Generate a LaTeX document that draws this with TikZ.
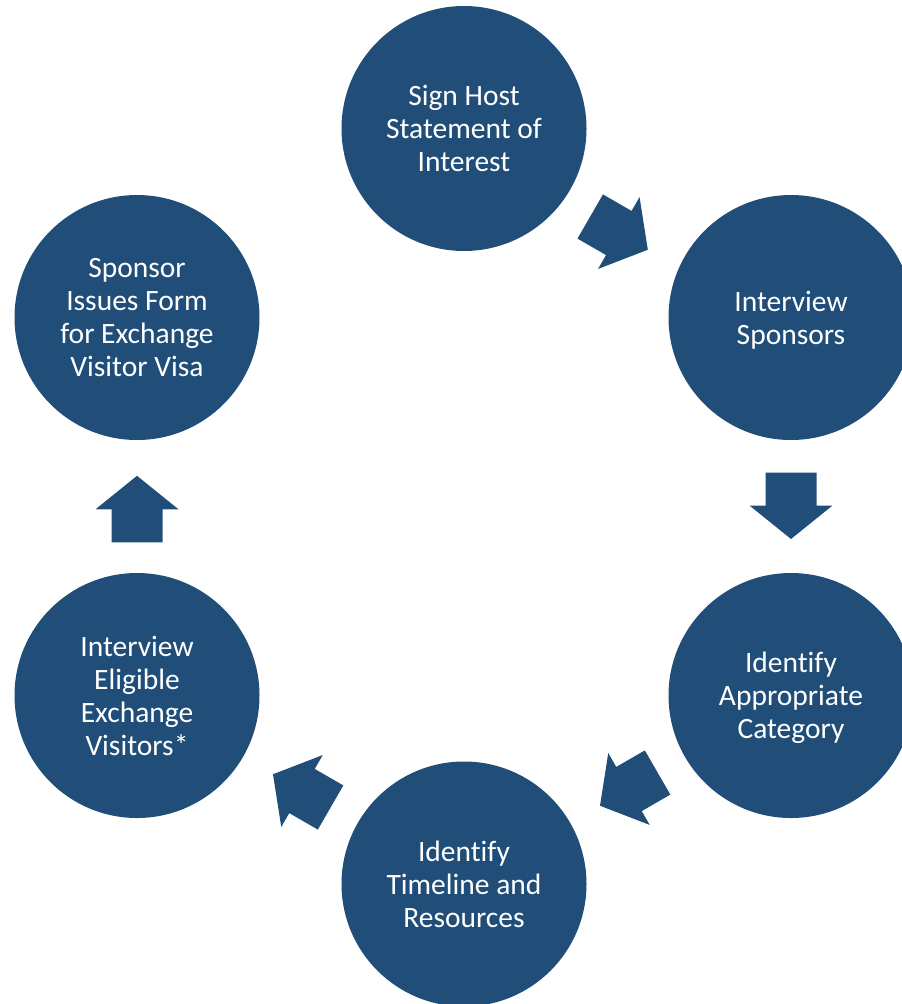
\documentclass[tikz,border=0pt]{standalone}
\usepackage{fontspec}
\setmainfont{Carlito}[Ligatures=NoCommon]
\definecolor{stepblue}{RGB}{32,78,121}
\begin{document}
\begin{tikzpicture}[x=1pt,y=-1pt,
  steptext/.style={text=white, align=center, font=\fontsize{29.5}{33}\selectfont},
  stepcircle/.style={circle, fill=stepblue, draw=none, minimum size=245pt, inner sep=0pt, steptext},
  blockarrow/.style={fill=stepblue, draw=none}]
\useasboundingbox (0,0) rectangle (902,1004);
\clip (0,0) rectangle (902,1004);
\node[stepcircle] (c1) at (464,128.5) {Sign Host\\Statement of\\Interest};
\node[stepcircle, label={[steptext, yshift=-3pt]center:Interview\\Sponsors}] (c2) at (791,317.5) {};
\node[stepcircle, label={[steptext, yshift=-2pt]center:Identify\\Appropriate\\Category}] (c3) at (791,695.5) {};
\node[stepcircle] (c4) at (464,884) {Identify\\Timeline and\\Resources};
\node[stepcircle] (c5) at (137,695.5) {Interview\\Eligible\\Exchange\\Visitors*};
\node[stepcircle] (c6) at (137,317.5) {Sponsor\\Issues Form\\for Exchange\\Visitor Visa};
\coordinate (a12) at (618.8,233);
\coordinate (a23) at (791,505.5);
\coordinate (a34) at (629,789);
\coordinate (a45) at (302,791);
\coordinate (a56) at (137,509.3);
\foreach \p/\ang in {a12/-30, a23/-90, a34/-150, a45/150, a56/90}{
  \begin{scope}[shift={(\p)}, rotate=\ang]
    \fill[blockarrow] (-33,-25.5) -- (0,-25.5) -- (0,-41.5) -- (33.5,0) -- (0,41.5) -- (0,25.5) -- (-33,25.5) -- cycle;
  \end{scope}
}
\end{tikzpicture}
\end{document}
